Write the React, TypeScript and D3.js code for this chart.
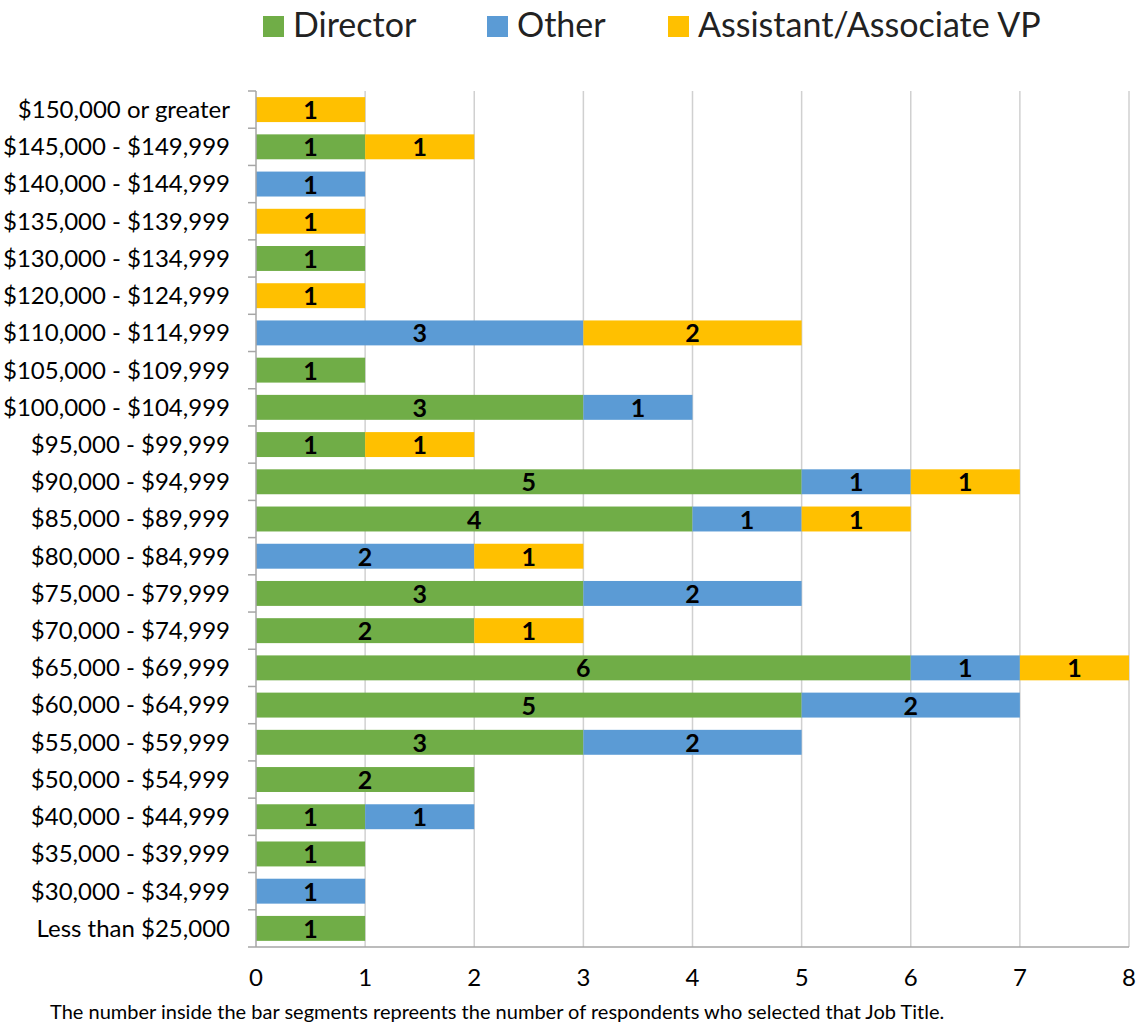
import React, { useEffect, useRef } from "react";
import * as d3 from "d3";

const categories = [
  "$150,000 or greater",
  "$145,000 - $149,999",
  "$140,000 - $144,999",
  "$135,000 - $139,999",
  "$130,000 - $134,999",
  "$120,000 - $124,999",
  "$110,000 - $114,999",
  "$105,000 - $109,999",
  "$100,000 - $104,999",
  "$95,000 - $99,999",
  "$90,000 - $94,999",
  "$85,000 - $89,999",
  "$80,000 - $84,999",
  "$75,000 - $79,999",
  "$70,000 - $74,999",
  "$65,000 - $69,999",
  "$60,000 - $64,999",
  "$55,000 - $59,999",
  "$50,000 - $54,999",
  "$40,000 - $44,999",
  "$35,000 - $39,999",
  "$30,000 - $34,999",
  "Less than $25,000",
];
const director = [0, 1, 0, 0, 1, 0, 0, 1, 3, 1, 5, 4, 0, 3, 2, 6, 5, 3, 2, 1, 1, 0, 1];
const other = [0, 0, 1, 0, 0, 0, 3, 0, 1, 0, 1, 1, 2, 2, 0, 1, 2, 2, 0, 1, 0, 1, 0];
const assistantVP = [1, 1, 0, 1, 0, 1, 2, 0, 0, 1, 1, 1, 1, 0, 1, 1, 0, 0, 0, 0, 0, 0, 0];
const seriesNames = ["Director", "Other", "Assistant/Associate VP"];
const seriesColors = ["#70AD47", "#5B9BD5", "#FFC000"];
const xTicks = [0, 1, 2, 3, 4, 5, 6, 7, 8];
const footnote =
  "The number inside the bar segments repreents the number of respondents who selected that Job Title.";

const W = 1146;
const H = 1024;
const FONT = "Lato, 'Open Sans', sans-serif";

export default function App() {
  const ref = useRef<SVGSVGElement | null>(null);

  useEffect(() => {
    const svg = d3.select(ref.current);
    svg.selectAll("*").remove();

    const left = 256;
    const right = 1129;
    const top = 91;
    const bottom = 947;

    const x = d3.scaleLinear().domain([0, 8]).range([left, right]);
    const y = d3.scaleBand<string>().domain(categories).range([top, bottom]).paddingInner(0.33).paddingOuter(0.165);
    const yb = d3.scaleBand<string>().domain(categories).range([top, bottom]);

    // gridlines
    svg
      .append("g")
      .selectAll("line")
      .data(xTicks.slice(1))
      .join("line")
      .attr("x1", (d) => x(d))
      .attr("x2", (d) => x(d))
      .attr("y1", top)
      .attr("y2", bottom)
      .attr("stroke", "#D0D0D0")
      .attr("stroke-width", 1.5);

    // stacked data
    const rows = categories.map((c, i) => ({ cat: c, v: [director[i], other[i], assistantVP[i]] }));
    const segs: { cat: string; s: number; x0: number; x1: number; v: number }[] = [];
    rows.forEach((r) => {
      let acc = 0;
      r.v.forEach((v, s) => {
        if (v > 0) segs.push({ cat: r.cat, s, x0: acc, x1: acc + v, v });
        acc += v;
      });
    });

    svg
      .append("g")
      .selectAll("rect")
      .data(segs)
      .join("rect")
      .attr("x", (d) => x(d.x0))
      .attr("y", (d) => y(d.cat)!)
      .attr("width", (d) => x(d.x1) - x(d.x0))
      .attr("height", y.bandwidth())
      .attr("fill", (d) => seriesColors[d.s]);

    svg
      .append("g")
      .selectAll("text")
      .data(segs)
      .join("text")
      .attr("x", (d) => x((d.x0 + d.x1) / 2))
      .attr("y", (d) => y(d.cat)! + y.bandwidth() / 2)
      .attr("dy", "0.38em")
      .attr("text-anchor", "middle")
      .attr("font-family", FONT)
      .attr("font-weight", "bold")
      .attr("font-size", 25)
      .attr("fill", "#000")
      .text((d) => d.v);

    // axes lines
    svg
      .append("line")
      .attr("x1", left)
      .attr("x2", left)
      .attr("y1", top)
      .attr("y2", bottom)
      .attr("stroke", "#A6A6A6")
      .attr("stroke-width", 1.5);
    svg
      .append("line")
      .attr("x1", left - 8)
      .attr("x2", right)
      .attr("y1", bottom)
      .attr("y2", bottom)
      .attr("stroke", "#A6A6A6")
      .attr("stroke-width", 1.5);
    // y ticks at band boundaries
    const bounds = categories.map((c) => yb(c)!);
    svg
      .append("g")
      .selectAll("line")
      .data(bounds)
      .join("line")
      .attr("x1", left - 8)
      .attr("x2", left)
      .attr("y1", (d) => d)
      .attr("y2", (d) => d)
      .attr("stroke", "#A6A6A6")
      .attr("stroke-width", 1.5);

    // category labels
    svg
      .append("g")
      .selectAll("text")
      .data(categories)
      .join("text")
      .attr("x", 230)
      .attr("y", (d) => yb(d)! + yb.bandwidth() / 2)
      .attr("dy", "0.35em")
      .attr("text-anchor", "end")
      .attr("font-family", FONT)
      .attr("font-size", 24)
      .attr("fill", "#000")
      .text((d) => d);

    // x tick labels
    svg
      .append("g")
      .selectAll("text")
      .data(xTicks)
      .join("text")
      .attr("x", (d) => x(d))
      .attr("y", 978)
      .attr("dy", "0.35em")
      .attr("text-anchor", "middle")
      .attr("font-family", FONT)
      .attr("font-size", 24)
      .attr("fill", "#000")
      .text((d) => d);

    // footnote
    svg
      .append("text")
      .attr("x", 50)
      .attr("y", 1012)
      .attr("dy", "0.35em")
      .attr("font-family", FONT)
      .attr("font-size", 20)
      .attr("fill", "#000")
      .text(footnote);

    // legend
    const legendX = [263, 487, 668];
    const lg = svg.append("g");
    seriesNames.forEach((n, i) => {
      lg.append("rect")
        .attr("x", legendX[i])
        .attr("y", 16)
        .attr("width", 21)
        .attr("height", 21)
        .attr("fill", seriesColors[i]);
      lg.append("text")
        .attr("x", legendX[i] + 30)
        .attr("y", 25)
        .attr("dy", "0.35em")
        .attr("font-family", FONT)
        .attr("font-size", 34)
        .attr("fill", "#222")
        .text(n);
    });
  }, []);

  return <svg ref={ref} width={W} height={H} style={{ display: "block", position: "absolute", left: 0, top: 0 }} />;
}
